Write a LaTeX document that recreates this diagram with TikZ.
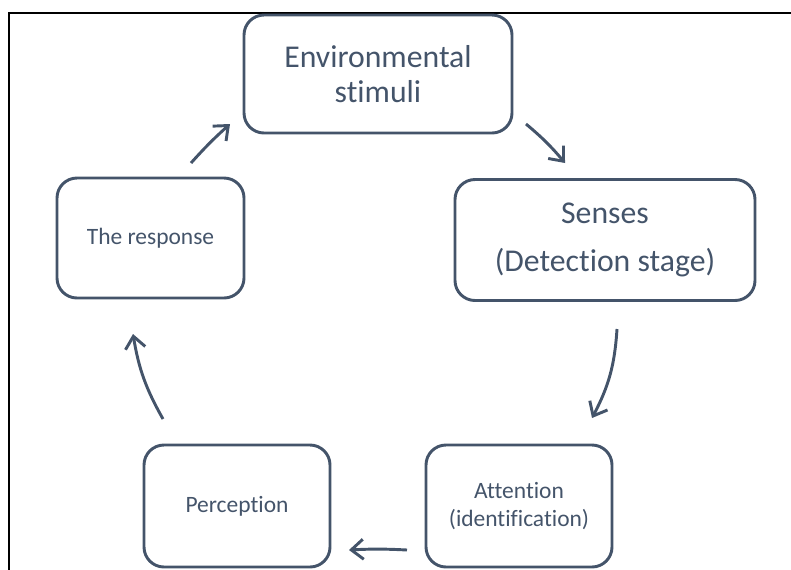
\documentclass[tikz,border=0pt]{standalone}
\usepackage{fontspec}
\setmainfont[Ligatures={NoCommon}]{Carlito}
\usetikzlibrary{arrows.meta}
\definecolor{slate}{HTML}{44546A}
\begin{document}
\begin{tikzpicture}[x=0.75pt,y=-0.75pt,
  box/.style={draw=slate,line width=2.2pt,rounded corners=15pt,text=slate,align=center,inner sep=0pt},
  big/.style={font=\fontsize{23.8}{26.3}\selectfont},
  small/.style={font=\fontsize{17.6}{20.5}\selectfont},
  flow/.style={draw=slate,line width=2.2pt,-{Straight Barb[length=9pt,width=15pt,line width=2.2pt]}}]
\useasboundingbox (0,0) rectangle (791,569);
\draw[line width=1.6pt] (9,13) rectangle (810,590);
\node[box,big,minimum width=268*0.75pt,minimum height=118*0.75pt] (env) at (378,74) {Environmental\\stimuli};
\node[box,big,minimum width=300*0.75pt,minimum height=121*0.75pt] (sen) at (605,240) {Senses\\[10pt](Detection stage)};
\node[box,small,minimum width=187*0.75pt,minimum height=120*0.75pt] (res) at (150.5,238) {The response};
\node[box,small,minimum width=186*0.75pt,minimum height=122*0.75pt] (per) at (237,506) {Perception};
\node[box,small,minimum width=186*0.75pt,minimum height=122*0.75pt] (att) at (519,506) {Attention\\(identification)};
\coordinate (a1) at (526,124); \coordinate (a2) at (565,163);
\coordinate (b1) at (617,329); \coordinate (b2) at (592,418);
\coordinate (c1) at (407,550); \coordinate (c2) at (349,550);
\coordinate (d1) at (163,419); \coordinate (d2) at (133,334);
\coordinate (e1) at (191,163); \coordinate (e2) at (230,124);
\draw[flow] (a1) to[bend left=5] (a2);
\draw[flow] (b1) to[bend left=12] (b2);
\draw[flow] (c1) to[bend right=3] (c2);
\draw[flow] (d1) to[bend left=10] (d2);
\draw[flow] (e1) to[bend left=3] (e2);
\end{tikzpicture}
\end{document}
